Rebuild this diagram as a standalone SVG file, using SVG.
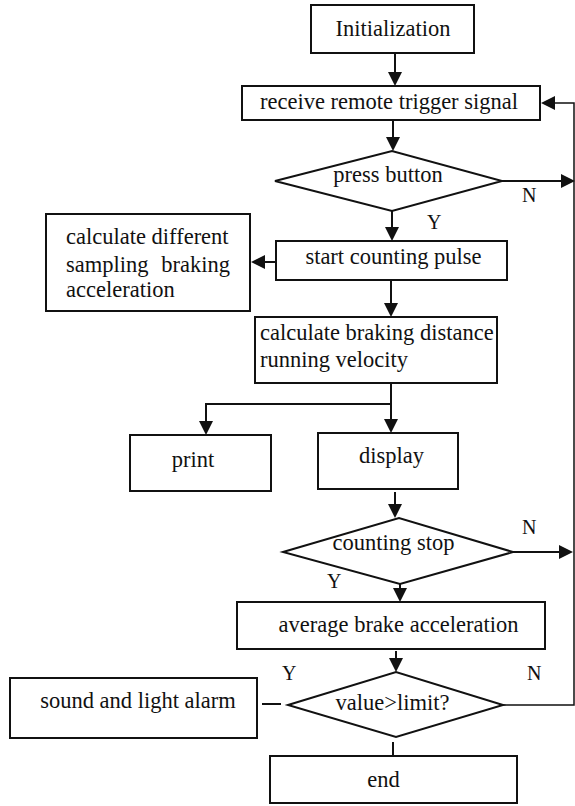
<svg xmlns="http://www.w3.org/2000/svg" width="575" height="806" viewBox="0 0 575 806">
  <style>
    .box { fill: #fff; stroke: #111; stroke-width: 2; }
    .dec { fill: #fff; stroke: #111; stroke-width: 2; stroke-linejoin: miter; }
    .lbl { font-family: "Liberation Serif", "Times New Roman", serif; font-size: 22.5px; fill: #111; }
    .yn { font-family: "Liberation Serif", "Times New Roman", serif; font-size: 20px; fill: #111; }
    .c { text-anchor: middle; }
    .wire { fill: none; stroke: #111; stroke-width: 2; }
    .thin { stroke-width: 1.5; }
    .arr { marker-end: url(#head); }
  </style>
  <defs>
    <marker id="head" markerUnits="userSpaceOnUse" markerWidth="14" markerHeight="14" refX="12" refY="7" orient="auto">
      <path d="M0,0 L14,7 L0,14 Z" fill="#111"/>
    </marker>
  </defs>

  <rect width="575" height="806" fill="#fff"/>

  <!-- connectors -->
  <g id="connectors">
    <path class="wire arr" d="M395,53 V84"/>
    <path class="wire arr" d="M393,120 V149"/>
    <path class="wire arr" d="M392,211 V239"/>
    <path class="wire arr" d="M276,262 H253"/>
    <path class="wire arr" d="M391,280 V315"/>
    <path class="wire arr" d="M391,383 V431"/>
    <path class="wire arr" d="M391,404 H206 V433"/>
    <path class="wire arr" d="M395,492 V516"/>
    <path class="wire arr" d="M400,584 V600"/>
    <path class="wire arr" d="M396,651 V670"/>
    <path class="wire" d="M262,704 H281"/>
    <path class="wire" d="M393,742 V755"/>
    <path class="wire arr" d="M502,181 H573"/>
    <path class="wire arr" d="M513,552 H571"/>
    <path class="wire thin arr" d="M503,705 H574 V103 H543"/>
  </g>

  <!-- nodes -->
  <g id="init">
    <rect class="box" x="311" y="5" width="163" height="48"/>
    <text class="lbl c" x="393" y="36">Initialization</text>
  </g>

  <g id="receive">
    <rect class="box" x="242" y="86" width="298" height="34"/>
    <text class="lbl c" x="389" y="109">receive remote trigger signal</text>
  </g>

  <g id="press">
    <polygon class="dec" points="275,181 392,151 502,181 392,211"/>
    <text class="lbl c" x="388" y="182">press button</text>
    <text class="yn" x="522" y="202">N</text>
    <text class="yn" x="427" y="229">Y</text>
  </g>

  <g id="sampling">
    <rect class="box" x="46" y="214" width="204" height="97"/>
    <text class="lbl" x="66" y="244">calculate different</text>
    <text class="lbl" x="66" y="271.5">sampling</text>
    <text class="lbl" x="230" y="271.5" text-anchor="end">braking</text>
    <text class="lbl" x="66" y="297">acceleration</text>
  </g>

  <g id="start">
    <rect class="box" x="276" y="241" width="231" height="39"/>
    <text class="lbl c" x="393.5" y="264">start counting pulse</text>
  </g>

  <g id="calc">
    <rect class="box" x="255" y="317" width="242" height="66"/>
    <text class="lbl" x="260" y="340">calculate braking distance</text>
    <text class="lbl" x="260" y="367">running velocity</text>
  </g>

  <g id="print">
    <rect class="box" x="130" y="435" width="141" height="56"/>
    <text class="lbl c" x="193" y="467">print</text>
  </g>

  <g id="display">
    <rect class="box" x="318" y="433" width="140" height="56"/>
    <text class="lbl c" x="391.5" y="463">display</text>
  </g>

  <g id="counting">
    <polygon class="dec" points="283,552 399,518 513,552 400,584"/>
    <text class="lbl c" x="393.5" y="550">counting stop</text>
    <text class="yn" x="522" y="534">N</text>
    <text class="yn" x="327" y="588">Y</text>
  </g>

  <g id="average">
    <rect class="box" x="237" y="602" width="308" height="47"/>
    <text class="lbl c" x="398.5" y="632">average brake acceleration</text>
  </g>

  <g id="limit">
    <polygon class="dec" points="288,705 396,672 503,705 396,737"/>
    <text class="lbl c" x="392.5" y="710">value&gt;limit?</text>
    <text class="yn" x="282" y="680">Y</text>
    <text class="yn" x="527" y="680">N</text>
  </g>

  <g id="alarm">
    <rect class="box" x="10" y="678" width="247" height="60"/>
    <text class="lbl c" x="138" y="708">sound and light alarm</text>
  </g>

  <g id="end">
    <rect class="box" x="270" y="756" width="247" height="47"/>
    <text class="lbl c" x="383.5" y="787">end</text>
  </g>
</svg>
